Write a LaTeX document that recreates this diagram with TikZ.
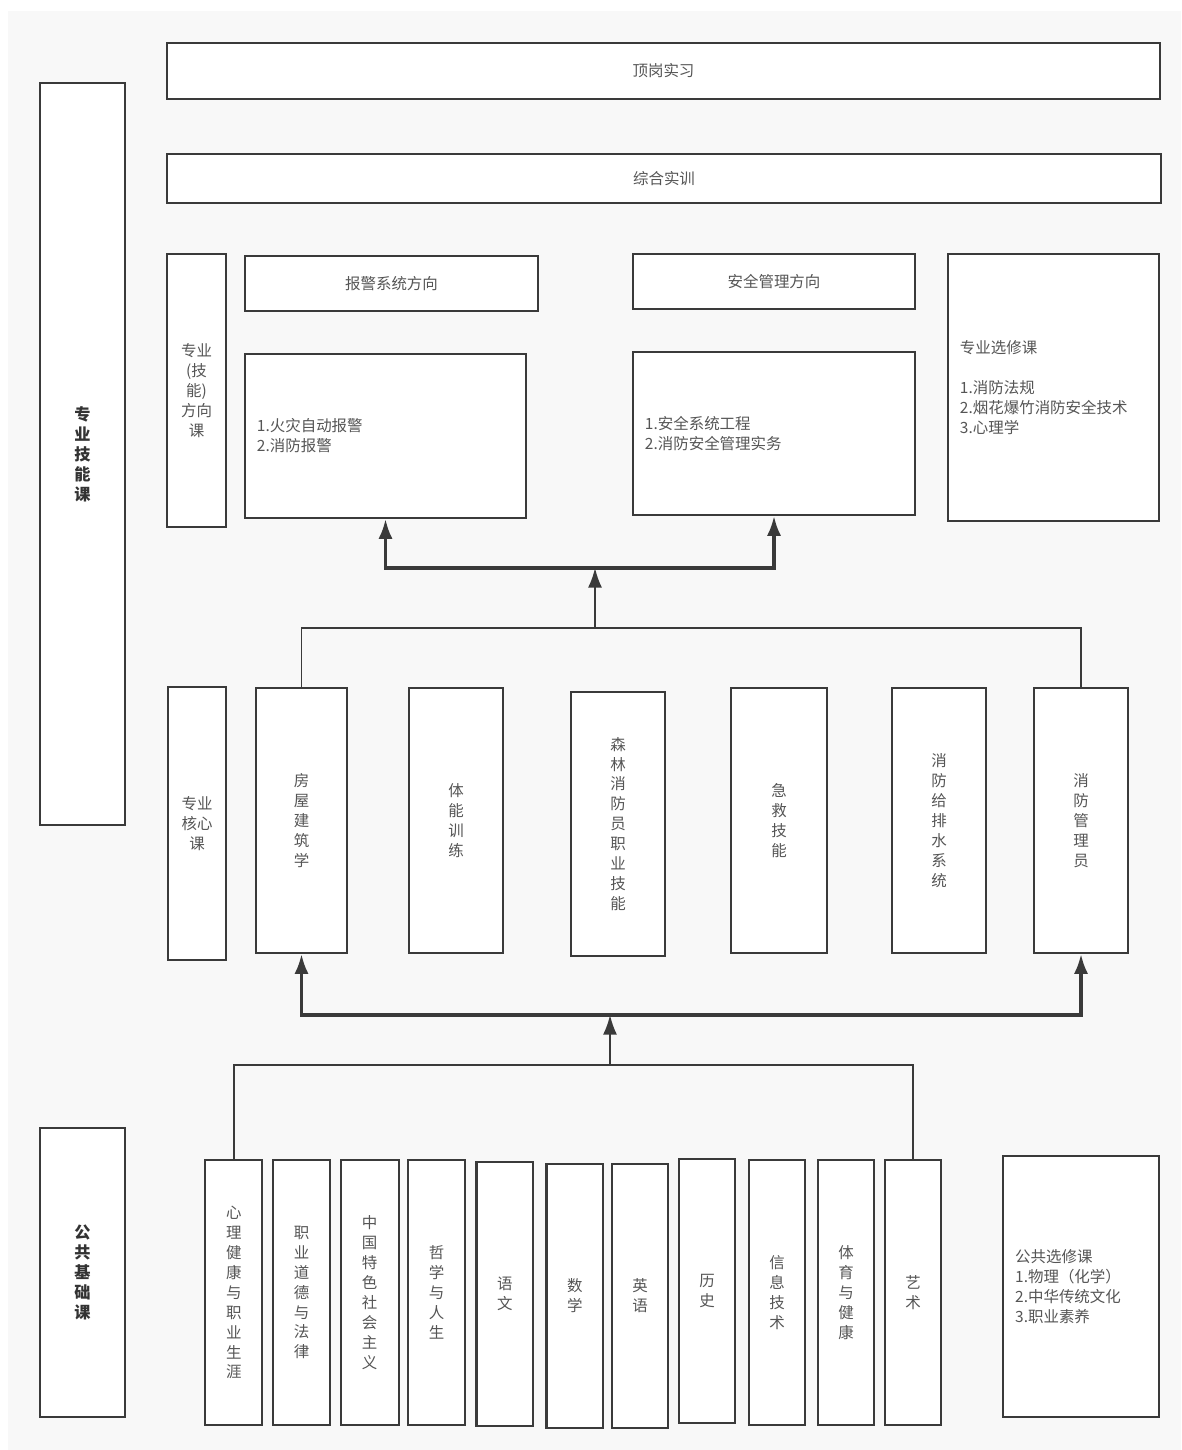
\documentclass[tikz,border=0pt]{standalone}
\usepackage{fontspec}
\setmainfont{Noto Sans CJK SC}
\usetikzlibrary{arrows.meta}
\definecolor{panelGray}{HTML}{F8F8F8}
\definecolor{edgeGray}{HTML}{3A3A3A}
\definecolor{textGray}{HTML}{555555}

\begin{document}
\begin{tikzpicture}[x = 0.025cm, y = -0.025cm]
	\tikzstyle{boxStyle} = [draw = edgeGray, line width = 1.5pt, fill = white, inner sep = 0pt, align = center, text = textGray, font = \fontsize{11pt}{14.2pt}\selectfont]
	\tikzstyle{headStyle} = [boxStyle, font = \fontsize{11.5pt}{14.2pt}\selectfont\bfseries, text = black!80]
	\tikzstyle{listStyle} = [boxStyle, align = left, inner xsep = 0.3cm]
	\tikzstyle{lineStyle} = [draw = edgeGray, line width = 1.3pt]
	\tikzstyle{arrowStyle} = [lineStyle, -{Latex[length = 14pt, width = 10pt]}]
	\tikzstyle{barStyle} = [arrowStyle, line width = 2.2pt]
	\useasboundingbox (0,0) rectangle (1181,1450);
	\fill[panelGray] (8,11) rectangle (1181,1450);
	\node[boxStyle, minimum width = 24.825cm, minimum height = 1.4cm] (dgsx) at (663.5,71) {顶岗实习};
	\node[boxStyle, minimum width = 24.85cm, minimum height = 1.225cm] (zhsx) at (664,178.5) {综合实训};
	\node[headStyle, minimum width = 2.125cm, minimum height = 18.55cm] (zyjnk) at (82.5,454) {专\\业\\技\\能\\课};
	\node[boxStyle, minimum width = 1.475cm, minimum height = 6.825cm] (fxk) at (196.5,390.5) {专业\\(技\\能)\\方向\\课};
	\node[boxStyle, minimum width = 7.325cm, minimum height = 1.375cm] (bjfx) at (391.5,283.5) {报警系统方向};
	\node[boxStyle, minimum width = 7.05cm, minimum height = 1.375cm] (aqfx) at (774,281.5) {安全管理方向};
	\node[listStyle, minimum width = 7.025cm, minimum height = 4.1cm, text width = 6.425cm] (bjkc) at (385.5,436) {1.火灾自动报警\\2.消防报警};
	\node[listStyle, minimum width = 7.05cm, minimum height = 4.075cm, text width = 6.45cm] (aqkc) at (774,433.5) {1.安全系统工程\\2.消防安全管理实务};
	\node[listStyle, minimum width = 5.275cm, minimum height = 6.675cm, text width = 4.675cm] (zyxx) at (1053.5,387.5) {专业选修课\\[14.2pt]1.消防法规\\2.烟花爆竹消防安全技术\\3.心理学};
	\node[boxStyle, minimum width = 1.45cm, minimum height = 6.825cm] (hxk) at (197,823.5) {专业\\核心\\课};
	\node[boxStyle, minimum width = 2.275cm, minimum height = 6.625cm] (fwjz) at (301.5,820.5) {房\\屋\\建\\筑\\学};
	\node[boxStyle, minimum width = 2.35cm, minimum height = 6.625cm] (tnxl) at (456,820.5) {体\\能\\训\\练};
	\node[boxStyle, minimum width = 2.35cm, minimum height = 6.6cm] (slxf) at (618,824) {森\\林\\消\\防\\员\\职\\业\\技\\能};
	\node[boxStyle, minimum width = 2.4cm, minimum height = 6.625cm] (jjjn) at (779,820.5) {急\\救\\技\\能};
	\node[boxStyle, minimum width = 2.35cm, minimum height = 6.625cm] (gps) at (939,820.5) {消\\防\\给\\排\\水\\系\\统};
	\node[boxStyle, minimum width = 2.35cm, minimum height = 6.625cm] (xfgl) at (1081,820.5) {消\\防\\管\\理\\员};
	\node[headStyle, minimum width = 2.125cm, minimum height = 7.225cm] (ggjc) at (82.5,1272.5) {公\\共\\基\\础\\课};
	\node[boxStyle, minimum width = 1.425cm, minimum height = 6.625cm] (xljk) at (233.75,1292.5) {心\\理\\健\\康\\与\\职\\业\\生\\涯};
	\node[boxStyle, minimum width = 1.425cm, minimum height = 6.625cm] (zydd) at (301.5,1292.5) {职\\业\\道\\德\\与\\法\\律};
	\node[boxStyle, minimum width = 1.45cm, minimum height = 6.625cm] (zgts) at (369.7,1292.5) {中\\国\\特\\色\\社\\会\\主\\义};
	\node[boxStyle, minimum width = 1.425cm, minimum height = 6.625cm] (zxrs) at (436.5,1292.5) {哲\\学\\与\\人\\生};
	\node[boxStyle, minimum width = 1.41cm, minimum height = 6.6cm] (yw) at (504.75,1294) {语\\文};
	\node[boxStyle, minimum width = 1.41cm, minimum height = 6.6cm] (sx) at (574.75,1296) {数\\学};
	\node[boxStyle, minimum width = 1.4cm, minimum height = 6.6cm] (yy) at (640,1296) {英\\语};
	\node[boxStyle, minimum width = 1.4cm, minimum height = 6.6cm] (ls) at (707,1291) {历\\史};
	\node[boxStyle, minimum width = 1.4cm, minimum height = 6.625cm] (xxjs) at (777,1292.5) {信\\息\\技\\术};
	\node[boxStyle, minimum width = 1.4cm, minimum height = 6.625cm] (tyjk) at (846,1292.5) {体\\育\\与\\健\\康};
	\node[boxStyle, minimum width = 1.4cm, minimum height = 6.625cm] (ys) at (913,1292.5) {艺\\术};
	\node[listStyle, minimum width = 3.89cm, minimum height = 6.525cm, text width = 3.29cm] (ggxx) at (1081,1286.5) {公共选修课\\1.物理（化学）\\2.中华传统文化\\3.职业素养};
	\coordinate (j1) at (595,628);
	\coordinate (b1) at (595,568);
	\coordinate (j2) at (610,1065);
	\coordinate (b2) at (610,1015);
	\draw[lineStyle] (fwjz.north) |- (j1) -| (xfgl.north);
	\draw[arrowStyle] (j1) -- (b1);
	\draw[barStyle] (b1) -| (bjkc.south);
	\draw[barStyle] (b1) -| (aqkc.south);
	\draw[lineStyle] (xljk.north) |- (j2) -| (ys.north);
	\draw[arrowStyle] (j2) -- (b2);
	\draw[barStyle] (b2) -| (fwjz.south);
	\draw[barStyle] (b2) -| (xfgl.south);
\end{tikzpicture}
\end{document}
